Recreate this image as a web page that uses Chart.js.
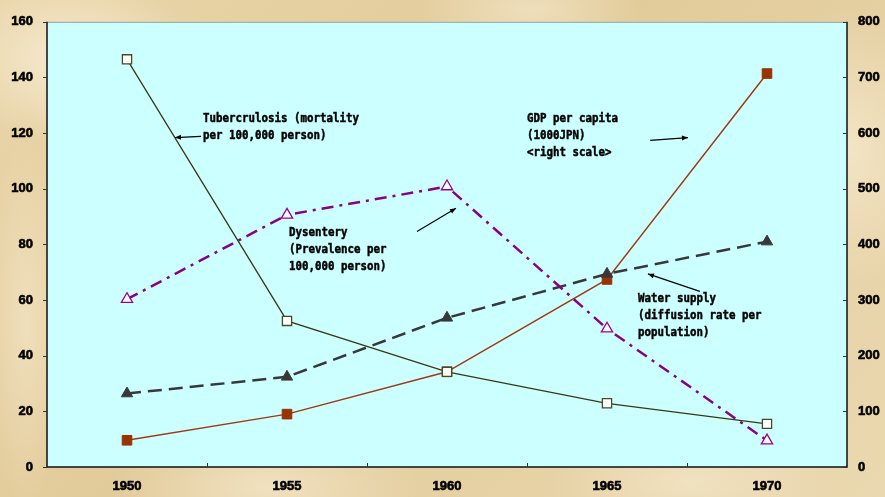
<!DOCTYPE html>
<html>
<head>
<meta charset="utf-8">
<script src="https://cdn.jsdelivr.net/npm/chart.js@4.4.1/dist/chart.umd.min.js"></script>
<style>
  html, body { margin: 0; padding: 0; }
  body {
    width: 885px; height: 497px; overflow: hidden;
    background-color: #e6d0a2;
    background-image:
      radial-gradient(ellipse 180px 120px at 8% 12%, rgba(250,242,222,0.75), rgba(250,242,222,0) 70%),
      radial-gradient(ellipse 140px 200px at 96% 30%, rgba(250,240,218,0.6), rgba(250,240,218,0) 70%),
      radial-gradient(ellipse 220px 90px at 30% 98%, rgba(248,238,214,0.6), rgba(248,238,214,0) 70%),
      radial-gradient(ellipse 200px 80px at 78% 97%, rgba(247,236,210,0.55), rgba(247,236,210,0) 70%),
      radial-gradient(ellipse 160px 70px at 60% 2%, rgba(247,238,214,0.55), rgba(247,238,214,0) 70%),
      radial-gradient(ellipse 60px 260px at 3% 65%, rgba(246,234,206,0.6), rgba(246,234,206,0) 70%),
      linear-gradient(135deg, #e9d5a9 0%, #e2cb9a 45%, #ead8b0 100%);
  }
  canvas { display: block; }
</style>
</head>
<body>
<canvas id="chart" width="885" height="497"></canvas>
<script>
// Categories and series
const years = ['1950', '1955', '1960', '1965', '1970'];
const tuberculosis = [146.5, 52.5, 34.2, 22.9, 15.5];   // left scale
const dysentery = [60.3, 90.6, 100.8, 49.7, 9.5];       // left scale
const waterSupply = [26.4, 32.4, 53.6, 69.4, 81.0];     // left scale
const gdpPerCapita = [48, 95, 171, 337, 707];           // right scale

// Axis ranges
const leftTicks = [0, 20, 40, 60, 80, 100, 120, 140, 160];
const rightTicks = [0, 100, 200, 300, 400, 500, 600, 700, 800];

// Callout notes: text lines plus an arrow, positioned in (category index, left-scale value)
const notes = [
  { lines: ['Tubercrulosis (mortality', 'per 100,000 person)'],
    at: [0.475, 125.1], from: [0.4625, 118.8], to: [0.3, 118.4] },
  { lines: ['GDP per capita', '(1000JPN)', '<right scale>'],
    at: [2.5, 125.1], from: [3.27, 117.4], to: [3.506, 118.4] },
  { lines: ['Dysentery', '(Prevalence per', '100,000 person)'],
    at: [1.0125, 84.2], from: [1.8125, 84.6], to: [2.056, 93.0] },
  { lines: ['Water supply', '(diffusion rate per', 'population)'],
    at: [3.194, 60.6], from: [3.58, 63.1], to: [3.256, 69.4] }
];

const tickFont = { family: "'Liberation Sans', Arial, sans-serif", size: 13, weight: 'bold' };

const frameAndNotes = {
  id: 'frameAndNotes',
  beforeDraw(chart) {
    const { ctx, chartArea: a } = chart;
    ctx.save();
    ctx.fillStyle = '#ccffff';
    ctx.fillRect(a.left, a.top, a.right - a.left, a.bottom - a.top);
    ctx.restore();
  },
  afterDraw(chart) {
    const { ctx, chartArea: a, scales } = chart;
    const x = scales.x, yl = scales.y, yr = scales.y2;
    ctx.save();
    // top edge
    ctx.strokeStyle = '#9a9a9a';
    ctx.lineWidth = 1;
    ctx.beginPath();
    ctx.moveTo(a.left, a.top + 0.5); ctx.lineTo(a.right, a.top + 0.5);
    ctx.stroke();
    // left, bottom, right axis lines
    ctx.strokeStyle = '#111';
    ctx.lineWidth = 1.5;
    ctx.beginPath();
    ctx.moveTo(a.left, a.top); ctx.lineTo(a.left, a.bottom);
    ctx.lineTo(a.right, a.bottom); ctx.lineTo(a.right, a.top);
    ctx.stroke();
    // tick marks
    ctx.lineWidth = 1;
    ctx.strokeStyle = '#333';
    ctx.beginPath();
    leftTicks.forEach(v => {
      const py = Math.round(yl.getPixelForValue(v)) + 0.5;
      ctx.moveTo(a.left - 4, py); ctx.lineTo(a.left, py);
    });
    rightTicks.forEach(v => {
      const py = Math.round(yr.getPixelForValue(v)) + 0.5;
      ctx.moveTo(a.right - 4, py); ctx.lineTo(a.right, py);
    });
    for (let i = 1; i < years.length; i++) {
      const px = Math.round(x.getPixelForValue(i - 0.5)) + 0.5;
      ctx.moveTo(px, a.bottom); ctx.lineTo(px, a.bottom - 4);
    }
    ctx.stroke();

    // callout notes
    ctx.fillStyle = '#000';
    ctx.strokeStyle = '#000';
    ctx.font = "bold 13px 'DejaVu Sans Mono', monospace";
    ctx.textBaseline = 'middle';
    ctx.textAlign = 'left';
    notes.forEach(n => {
      const tx = x.getPixelForValue(n.at[0]);
      const ty = yl.getPixelForValue(n.at[1]);
      n.lines.forEach((line, i) => {
        ctx.save();
        ctx.translate(tx, ty + i * 17);
        ctx.scale(0.83, 1);
        ctx.lineWidth = 0.5;
        ctx.fillText(line, 0, 0);
        ctx.strokeText(line, 0, 0);
        ctx.restore();
      });
      const x1 = x.getPixelForValue(n.from[0]), y1 = yl.getPixelForValue(n.from[1]);
      const x2 = x.getPixelForValue(n.to[0]), y2 = yl.getPixelForValue(n.to[1]);
      ctx.lineWidth = 1.2;
      ctx.beginPath();
      ctx.moveTo(x1, y1); ctx.lineTo(x2, y2);
      ctx.stroke();
      const ang = Math.atan2(y2 - y1, x2 - x1);
      const len = 6, half = 2.5;
      ctx.beginPath();
      ctx.moveTo(x2, y2);
      ctx.lineTo(x2 - len * Math.cos(ang) + half * Math.sin(ang), y2 - len * Math.sin(ang) - half * Math.cos(ang));
      ctx.lineTo(x2 - len * Math.cos(ang) - half * Math.sin(ang), y2 - len * Math.sin(ang) + half * Math.cos(ang));
      ctx.closePath();
      ctx.fill();
    });
    ctx.restore();
  }
};

new Chart(document.getElementById('chart'), {
  type: 'line',
  data: {
    labels: years,
    datasets: [
      {
        label: 'Tubercrulosis', data: tuberculosis, yAxisID: 'y',
        borderColor: '#3a3a10', borderWidth: 1.3,
        pointStyle: 'rect', pointRadius: 6.5, pointBorderWidth: 1.3,
        pointBackgroundColor: '#ffffff', pointBorderColor: '#4a4a20'
      },
      {
        label: 'Dysentery', data: dysentery, yAxisID: 'y',
        borderColor: '#880088', borderWidth: 2.5, borderDash: [12, 6, 3, 6],
        pointStyle: 'triangle', pointRadius: 6.5, pointBorderWidth: 1.3,
        pointBackgroundColor: '#ffffff', pointBorderColor: '#990099'
      },
      {
        label: 'Water supply', data: waterSupply, yAxisID: 'y',
        borderColor: '#383838', borderWidth: 2.5, borderDash: [14, 7],
        pointStyle: 'triangle', pointRadius: 6.5, pointBorderWidth: 1,
        pointBackgroundColor: '#383838', pointBorderColor: '#383838'
      },
      {
        label: 'GDP per capita', data: gdpPerCapita, yAxisID: 'y2',
        borderColor: '#a03a10', borderWidth: 1.5,
        pointStyle: 'rect', pointRadius: 6.8, pointBorderWidth: 1,
        pointBackgroundColor: '#993300', pointBorderColor: '#993300'
      }
    ]
  },
  options: {
    responsive: false,
    animation: false,
    devicePixelRatio: 1,
    layout: { padding: { top: 4, left: 0, right: 0, bottom: 0 } },
    plugins: { legend: { display: false }, tooltip: { enabled: false } },
    elements: { line: { tension: 0 } },
    scales: {
      x: {
        offset: true,
        grid: { display: false, drawTicks: false },
        border: { display: false },
        ticks: { color: '#000', font: tickFont, padding: 12, maxRotation: 0,
                 textStrokeColor: '#000', textStrokeWidth: 0.6 },
        afterFit(s) { s.height = 30; }
      },
      y: {
        position: 'left', min: 0, max: 160,
        grid: { display: false, drawTicks: false },
        border: { display: false },
        ticks: { stepSize: 20, color: '#000', font: tickFont, padding: 14,
                 textStrokeColor: '#000', textStrokeWidth: 0.6 },
        afterFit(s) { s.width = 47; }
      },
      y2: {
        position: 'right', min: 0, max: 800,
        grid: { display: false, drawTicks: false },
        border: { display: false },
        ticks: { stepSize: 100, color: '#000', font: tickFont, padding: 11,
                 textStrokeColor: '#000', textStrokeWidth: 0.6 },
        afterFit(s) { s.width = 38; }
      }
    }
  },
  plugins: [frameAndNotes]
});
</script>
</body>
</html>
